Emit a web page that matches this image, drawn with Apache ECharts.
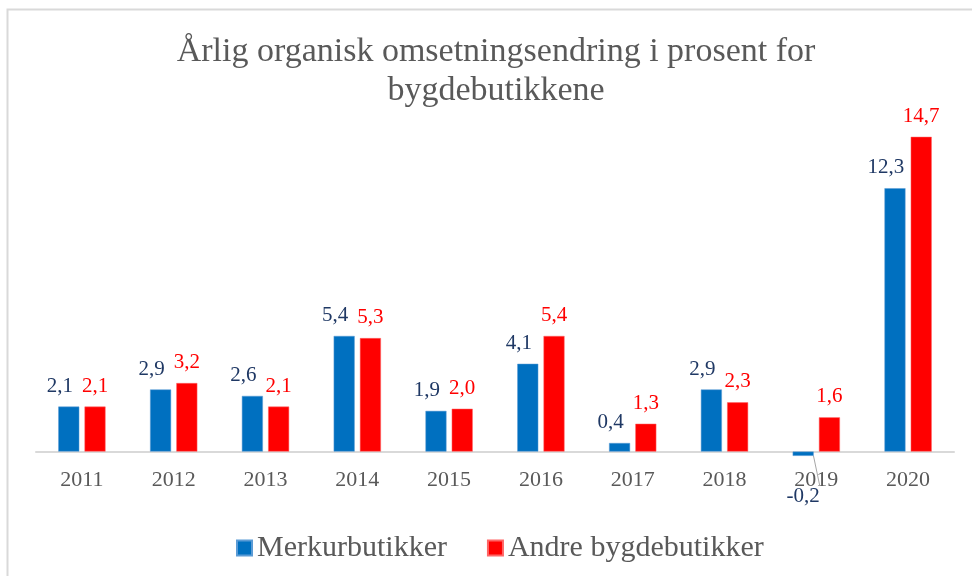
<!DOCTYPE html>
<html>
<head>
<meta charset="utf-8">
<script src="https://cdn.jsdelivr.net/npm/echarts@6/dist/echarts.min.js"></script>
<style>html,body{margin:0;padding:0;background:#fff;}#c{width:972px;height:576px;}</style>
</head>
<body>
<div id="c"></div>
<script>
const years = ['2011','2012','2013','2014','2015','2016','2017','2018','2019','2020'];
const merkur = [2.1, 2.9, 2.6, 5.4, 1.9, 4.1, 0.4, 2.9, -0.2, 12.3];
const andre = [2.1, 3.2, 2.1, 5.3, 2.0, 5.4, 1.3, 2.3, 1.6, 14.7];
const seriesNames = ['Merkurbutikker', 'Andre bygdebutikker'];
const titleText = 'Årlig organisk omsetningsendring i prosent for\nbygdebutikkene';

const FONT = 'Liberation Serif';
const fmt = v => v.toFixed(1).replace('.', ',');

const mData = merkur.map(v => v < 0
  ? { value: v, label: { position: 'bottom', distance: 30, offset: [0, 0] } }
  : v);

const chart = echarts.init(document.getElementById('c'));
chart.setOption({
  backgroundColor: '#fff',
  animation: false,
  graphic: [{
    type: 'polyline',
    shape: { points: [[7.5, 576], [7.5, 9.5], [972, 9.5]] },
    style: { stroke: '#D9D9D9', lineWidth: 2, fill: null }
  }],
  title: {
    text: titleText,
    left: 491,
    textAlign: 'center',
    top: 28,
    textStyle: { fontFamily: FONT, fontWeight: 'normal', fontSize: 34, color: '#595959', lineHeight: 39 }
  },
  legend: {
    bottom: 8,
    left: 231,
    itemWidth: 15, itemHeight: 15,
    itemGap: 40,
    icon: 'rect',
    textStyle: { fontFamily: FONT, fontSize: 30, color: '#595959' },
    data: seriesNames
  },
  grid: { left: 36, right: 18, top: 109, bottom: 118, containLabel: false },
  xAxis: {
    type: 'category',
    data: years,
    axisLine: { onZero: true, lineStyle: { color: '#D9D9D9', width: 2 } },
    axisTick: { show: false },
    axisLabel: { fontFamily: FONT, fontSize: 22, color: '#595959', margin: 11 }
  },
  yAxis: {
    type: 'value', min: -0.3, max: 16,
    show: false,
    splitLine: { show: false }
  },
  series: [
    {
      name: seriesNames[0], type: 'bar', data: mData,
      barWidth: 21, barGap: '25%',
      itemStyle: { color: '#0070C0', borderColor: '#5B9BD5', borderWidth: 0.5 },
      label: {
        show: true,
        fontFamily: FONT, fontSize: 21, color: '#1F3864',
        formatter: p => fmt(p.value),
        position: 'top', distance: 10, offset: [-9, 0]
      },
      labelLine: { show: true, lineStyle: { color: '#A6A6A6', width: 1 } }
    },
    {
      name: seriesNames[1], type: 'bar', data: andre,
      barWidth: 21,
      itemStyle: { color: '#FF0000', borderColor: '#FF6666', borderWidth: 0.5 },
      label: {
        show: true, position: 'top', distance: 10,
        fontFamily: FONT, fontSize: 21, color: '#FF0000',
        formatter: p => fmt(p.value)
      }
    }
  ]
});
</script>
</body>
</html>
